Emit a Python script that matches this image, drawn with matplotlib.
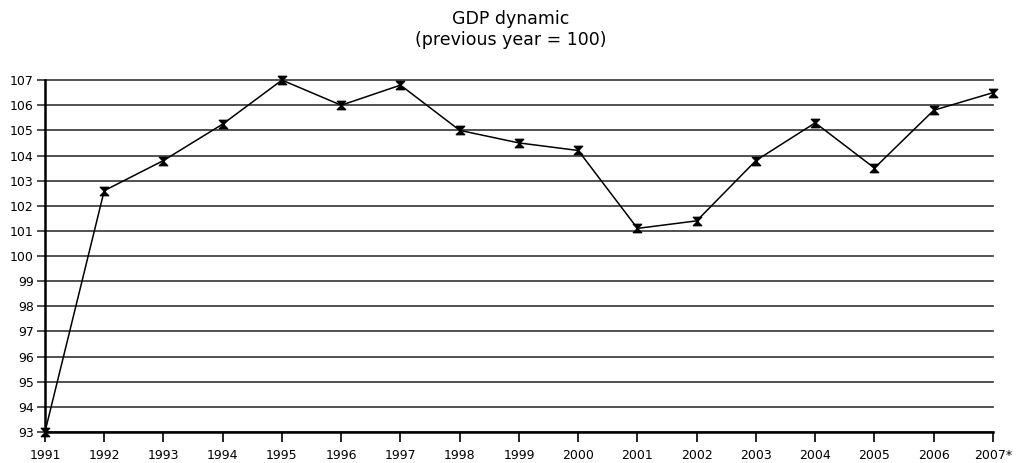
import numpy as np
import matplotlib.pyplot as plt
from matplotlib.path import Path

years = ['1991', '1992', '1993', '1994', '1995', '1996', '1997', '1998', '1999',
         '2000', '2001', '2002', '2003', '2004', '2005', '2006', '2007*']
gdp = [93.0, 102.6, 103.8, 105.25, 107.0, 106.0, 106.8, 105.0, 104.5,
       104.2, 101.1, 101.4, 103.8, 105.3, 103.5, 105.8, 106.5]

# hourglass-shaped marker
hourglass = Path([(-1, 1), (1, 1), (-1, -1), (1, -1), (-1, 1)],
                 [Path.MOVETO, Path.LINETO, Path.LINETO, Path.LINETO, Path.CLOSEPOLY])

fig = plt.figure(figsize=(10.22, 4.63), dpi=100)
ax = fig.add_axes([0.044, 0.067, 0.9276, 0.760])

x = np.arange(len(years))
ax.plot(x, gdp, color='black', linewidth=1.1, marker=hourglass,
        markersize=6, markerfacecolor='black', markeredgecolor='black',
        clip_on=False, zorder=5)

ax.set_xlim(0, len(years) - 1)
ax.set_ylim(93, 107)
ax.set_xticks(x)
ax.set_xticklabels(years, fontsize=9)
ax.set_yticks(np.arange(93, 108))
ax.tick_params(axis='y', labelsize=9, length=6, width=1.2, color='#333333', pad=2)
ax.tick_params(axis='x', length=7, width=1.2, color='black', pad=5)

ax.grid(True, axis='y', color='#333333', linewidth=1.2)
for gl in ax.get_ygridlines():
    gl.set_clip_on(False)
ax.set_axisbelow(True)
for s in ['top', 'right']:
    ax.spines[s].set_visible(False)
ax.spines['left'].set_linewidth(1.8)
ax.spines['bottom'].set_linewidth(1.8)

fig.suptitle('GDP dynamic\n(previous year = 100)', fontsize=12.5, y=0.978)

fig.savefig('out.png', dpi=100)
